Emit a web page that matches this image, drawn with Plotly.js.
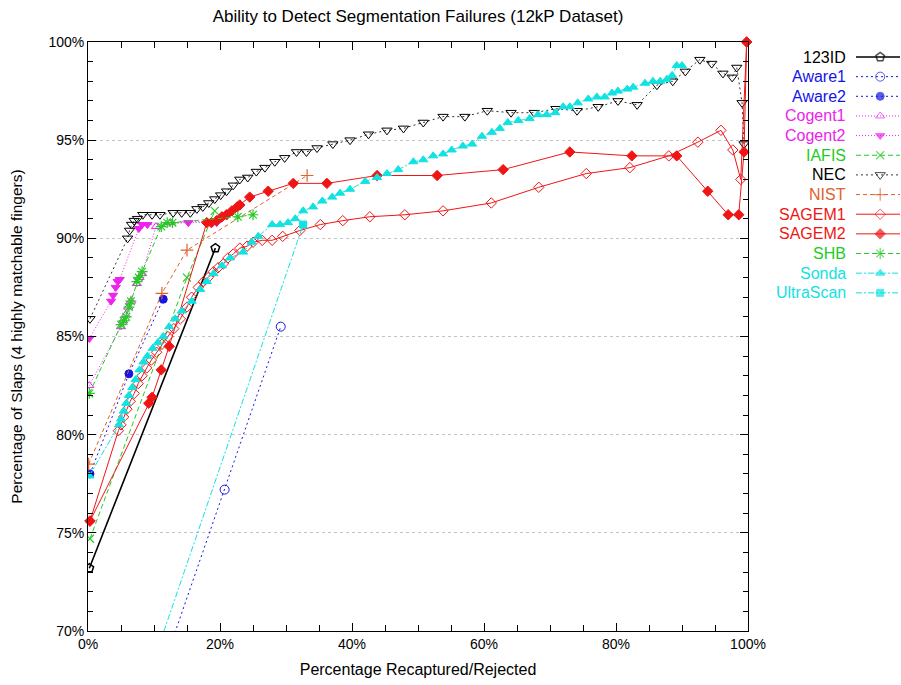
<!DOCTYPE html>
<html>
<head>
<meta charset="utf-8">
<script src="https://cdn.plot.ly/plotly-3.0.1.min.js"></script>
<style>html,body{margin:0;padding:0;background:#fff;}#chart{width:901px;height:685px;}</style>
</head>
<body>
<div id="chart"></div>
<script>
// ---- data ----
const seriesNames = ["123ID","Aware1","Aware2","Cogent1","Cogent2","IAFIS","NEC","NIST","SAGEM1","SAGEM2","SHB","Sonda","UltraScan"];

const id123X = [0.2, 19.3];
const id123Y = [73.2, 89.5];

const aware1X = [0.3, 20.7, 29.2];
const aware1Y = [57.4, 77.2, 85.5];

const aware2X = [0.3, 6.2, 11.4];
const aware2Y = [78.0, 83.1, 86.9];

const cogent1X = [0.2, 5.0, 5.3, 5.7, 6.1, 6.5, 7.4, 7.8, 8.2, 10.3, 12.5, 19.5];
const cogent1Y = [82.5, 85.5, 85.8, 86.1, 86.5, 86.8, 87.7, 88.0, 88.2, 90.6, 90.8, 90.9];

const cogent2X = [0.2, 3.5, 3.8, 4.2, 4.5, 4.8, 7.7, 8.2, 9.0, 15.2, 19.5];
const cogent2Y = [84.9, 86.8, 87.1, 87.5, 87.8, 87.9, 90.5, 90.7, 90.7, 90.8, 90.8];

const iafisX = [0.3, 15.0, 19.2];
const iafisY = [74.7, 88.0, 91.4];

const necX = [0.3, 6.0, 6.3, 6.6, 7.0, 7.5, 8.3, 9.7, 10.9, 12.9, 14.2, 15.5, 16.5, 17.4, 18.3, 19.2, 20.1, 21.0, 22.0, 23.0, 24.2, 25.5, 26.8, 28.3, 29.8, 31.6, 33.1, 34.7, 37.1, 39.7, 42.5, 45.3, 47.8, 50.8, 53.8, 57.1, 60.5, 64.1, 67.6, 70.9, 74.1, 77.3, 80.3, 83.2, 86.2, 88.6, 90.5, 92.7, 94.5, 96.2, 97.6, 98.3, 99.1, 99.4];
const necY = [85.9, 90.0, 90.4, 90.7, 90.9, 91.0, 91.2, 91.2, 91.2, 91.3, 91.3, 91.3, 91.5, 91.6, 91.8, 92.0, 92.2, 92.4, 92.7, 93.0, 93.1, 93.4, 93.6, 93.9, 94.1, 94.4, 94.4, 94.6, 94.8, 95.0, 95.3, 95.5, 95.6, 95.9, 96.2, 96.2, 96.5, 96.4, 96.4, 96.6, 96.5, 96.7, 97.0, 96.8, 97.8, 98.0, 98.5, 99.1, 98.9, 98.4, 98.2, 98.7, 96.9, 94.8];

const nistX = [0.1, 11.2, 15.0, 33.2];
const nistY = [78.5, 87.2, 89.4, 93.2];

const sagem1X = [0.3, 4.6, 5.0, 5.4, 5.9, 6.4, 7.0, 7.6, 8.2, 8.9, 9.6, 10.4, 11.2, 12.1, 13.0, 14.0, 15.0, 15.7, 16.7, 17.5, 18.2, 19.0, 19.7, 20.5, 21.2, 22.0, 23.0, 24.1, 25.0, 26.4, 27.9, 29.5, 32.1, 35.2, 38.6, 42.7, 48.0, 53.8, 61.1, 68.3, 75.5, 82.1, 88.0, 92.4, 95.9, 97.7, 98.9, 99.8];
const sagem1Y = [75.6, 80.2, 80.5, 80.9, 81.3, 81.7, 82.1, 82.6, 83.0, 83.4, 83.8, 84.2, 84.6, 85.0, 85.4, 85.9, 86.5, 87.0, 87.5, 87.8, 88.0, 88.3, 88.5, 88.7, 89.0, 89.2, 89.5, 89.6, 89.8, 89.9, 89.9, 90.1, 90.4, 90.7, 90.9, 91.1, 91.2, 91.4, 91.8, 92.6, 93.3, 93.6, 94.2, 94.9, 95.5, 94.5, 93.0, 100.0];

const sagem2X = [0.3, 9.2, 9.7, 11.1, 12.3, 18.0, 18.7, 19.5, 20.3, 21.0, 21.8, 22.6, 23.0, 24.5, 27.3, 31.1, 36.2, 43.8, 52.9, 62.9, 73.0, 82.4, 89.2, 93.9, 97.0, 98.6, 99.4, 99.8];
const sagem2Y = [75.6, 81.6, 81.9, 83.3, 84.5, 90.8, 90.8, 90.9, 91.1, 91.2, 91.4, 91.6, 91.7, 92.1, 92.4, 92.8, 92.8, 93.2, 93.2, 93.5, 94.4, 94.2, 94.2, 92.4, 91.2, 91.2, 94.4, 100.0];

const shbX = [0.2, 5.0, 5.4, 5.8, 6.2, 6.5, 7.4, 7.7, 8.2, 11.1, 12.0, 12.8, 22.7, 25.0];
const shbY = [82.1, 85.6, 85.8, 86.0, 86.5, 86.8, 87.8, 88.0, 88.3, 90.6, 90.8, 90.8, 91.1, 91.2];

const sondaX = [0.2, 4.7, 5.0, 5.4, 5.8, 6.2, 6.7, 7.2, 7.8, 8.4, 9.0, 9.8, 10.6, 11.4, 12.3, 13.2, 14.2, 15.7, 17.0, 18.0, 19.0, 20.3, 21.5, 23.5, 24.8, 25.8, 27.9, 29.1, 30.3, 31.4, 32.6, 34.1, 35.5, 37.0, 38.2, 39.7, 42.0, 43.8, 45.3, 47.0, 49.3, 50.8, 52.3, 53.8, 55.1, 56.8, 58.2, 59.7, 61.2, 62.4, 63.6, 65.2, 66.9, 68.2, 69.5, 70.8, 72.0, 73.0, 74.2, 75.8, 77.1, 78.3, 79.4, 80.3, 81.7, 82.6, 84.4, 85.6, 86.7, 87.7, 88.5, 89.2, 90.0];
const sondaY = [77.9, 80.5, 80.8, 81.2, 81.6, 82.0, 82.4, 82.8, 83.3, 83.7, 84.0, 84.4, 84.7, 85.0, 85.5, 85.9, 86.3, 86.8, 87.4, 87.8, 88.2, 88.6, 89.0, 89.3, 89.8, 90.1, 90.7, 90.7, 90.8, 91.0, 91.4, 91.6, 91.9, 92.1, 92.3, 92.5, 92.9, 93.1, 93.3, 93.5, 93.9, 94.0, 94.2, 94.3, 94.5, 94.7, 94.8, 95.2, 95.4, 95.6, 95.9, 96.0, 96.1, 96.3, 96.3, 96.4, 96.7, 96.7, 96.9, 97.1, 97.2, 97.2, 97.4, 97.5, 97.6, 97.7, 97.9, 98.0, 98.0, 98.1, 98.3, 98.8, 98.8];

const ultraX = [0.3, 32.6];
const ultraY = [59.0, 90.7];

const xTickVals = [0, 20, 40, 60, 80, 100];
const xTickText = ["0%", "20%", "40%", "60%", "80%", "100%"];
const yTickVals = [70, 75, 80, 85, 90, 95, 100];
const yTickText = ["70%", "75%", "80%", "85%", "90%", "95%", "100%"];

// ---- styles ----
const BLUE = "#1515e6", MAG = "#ee22ee", GREEN = "#22cc22", ORANGE = "#e2602c", RED = "#f01515", CYAN = "#11e2e2";
const styles = [
  {x: id123X, y: id123Y, color: "#000", lc: "#000", dash: "solid", w: 1.6, sym: "pentagon-open", size: 9, lw: 1.5},
  {x: aware1X, y: aware1Y, color: BLUE, lc: BLUE, dash: "2px,3px", w: 1, sym: "circle-open", size: 9, lw: 1},
  {x: aware2X, y: aware2Y, color: BLUE, lc: BLUE, dash: "2px,3px", w: 1, sym: "circle", size: 8, lw: 1},
  {x: cogent1X, y: cogent1Y, color: MAG, lc: MAG, dash: "1px,2px", w: 1, sym: "triangle-up-open", size: 8, lw: 1},
  {x: cogent2X, y: cogent2Y, color: MAG, lc: MAG, dash: "1px,2px", w: 1, sym: "triangle-down", size: 8, lw: 1},
  {x: iafisX, y: iafisY, color: GREEN, lc: GREEN, dash: "5px,3px", w: 1, sym: "x-thin-open", size: 8, lw: 1.2},
  {x: necX, y: necY, color: "#000", lc: "#333", dash: "2px,3px", w: 1, sym: "triangle-down-open", size: 9, lw: 1},
  {x: nistX, y: nistY, color: ORANGE, lc: ORANGE, dash: "4px,3px", w: 1, sym: "cross-thin-open", size: 9, lw: 1.2},
  {x: sagem1X, y: sagem1Y, color: RED, lc: RED, dash: "solid", w: 1, sym: "diamond-open", size: 8, lw: 1, noclip: true},
  {x: sagem2X, y: sagem2Y, color: RED, lc: RED, dash: "solid", w: 1, sym: "diamond", size: 8, lw: 1, noclip: true},
  {x: shbX, y: shbY, color: GREEN, lc: GREEN, dash: "5px,3px", w: 1, sym: "asterisk-open", size: 9, lw: 1.2},
  {x: sondaX, y: sondaY, color: CYAN, lc: CYAN, dash: "6px,2px,2px,2px", w: 1, sym: "triangle-up", size: 8, lw: 1},
  {x: ultraX, y: ultraY, color: CYAN, lc: CYAN, dash: "6px,2px,2px,2px", w: 1, sym: "square", size: 7, lw: 1}
];

const traces = [];
const annotations = [];
styles.forEach((s, i) => {
  traces.push({
    type: "scatter", mode: "lines+markers", x: s.x, y: s.y, name: seriesNames[i],
    xaxis: "x", yaxis: "y", showlegend: false, cliponaxis: !s.noclip,
    line: {color: s.lc, width: s.w, dash: s.dash},
    marker: {symbol: s.sym, size: s.size, color: s.color, line: {color: s.color, width: s.lw}}
  });
  // custom legend sample (line with marker in middle) on a side axis
  traces.push({
    type: "scatter", mode: "lines+markers", x: [0, 0.55, 1], y: [i, i, i],
    xaxis: "x2", yaxis: "y2", showlegend: false, hoverinfo: "skip", cliponaxis: false,
    line: {color: s.lc, width: s.w, dash: s.dash},
    marker: {symbol: s.sym, size: [0, s.size, 0], color: s.color, line: {color: s.color, width: s.lw}}
  });
  annotations.push({
    xref: "x2", yref: "y2", x: 0, y: i, text: seriesNames[i], showarrow: false,
    xanchor: "right", yanchor: "middle", xshift: -8,
    font: {family: "Liberation Sans, Arial, sans-serif", size: 16, color: s.color}
  });
});

const W = 901, H = 685, L = 88, R = 1;
const plotW = W - L - R;
const mainEnd = (748 - L) / plotW;
const legStart = (856 - L) / plotW;
const plotTop = 42, plotBottom = 631, rowH = 19.65, firstRow = 57;

const layout = {
  width: W, height: H,
  margin: {l: L, r: R, t: plotTop, b: H - plotBottom, pad: 0},
  paper_bgcolor: "#fff", plot_bgcolor: "#fff",
  font: {family: "Liberation Sans, Arial, sans-serif", size: 14, color: "#000"},
  title: {text: "Ability to Detect Segmentation Failures (12kP Dataset)", x: 418 / W, xanchor: "center", y: 1 - 16 / H, yanchor: "middle", xref: "container", yref: "container",
          font: {size: 17, color: "#000"}},
  xaxis: {
    domain: [0, mainEnd], range: [0, 100], tickvals: xTickVals, ticktext: xTickText,
    ticks: "inside", ticklen: 8, tickcolor: "#000", showline: true, linecolor: "#000", linewidth: 1, mirror: "ticks",
    showgrid: false, zeroline: false,
    minor: {dtick: 5, ticks: "inside", ticklen: 6, tickcolor: "#000", showgrid: false},
    title: {text: "Percentage Recaptured/Rejected", font: {size: 16}, standoff: 13},
    tickfont: {size: 14}
  },
  yaxis: {
    range: [70, 100], tickvals: yTickVals, ticktext: yTickText,
    ticks: "inside", ticklen: 8, tickcolor: "#000", showline: true, linecolor: "#000", linewidth: 1, mirror: "ticks",
    showgrid: true, gridcolor: "#c4c4c4", griddash: "dot", gridwidth: 1, zeroline: false,
    minor: {dtick: 1, ticks: "inside", ticklen: 5, tickcolor: "#000", showgrid: false},
    title: {text: "Percentage of Slaps (4 highly matchable fingers)", font: {size: 15.5}, standoff: 21},
    tickfont: {size: 14}
  },
  xaxis2: {domain: [legStart, 1], range: [0, 1], visible: false, fixedrange: true},
  yaxis2: {anchor: "x2", domain: [0, 1], range: [(plotBottom - firstRow) / rowH, -(firstRow - plotTop) / rowH], visible: false, fixedrange: true},
  annotations: annotations,
  showlegend: false
};

Plotly.newPlot("chart", traces, layout, {staticPlot: true, displayModeBar: false});
</script>
</body>
</html>
